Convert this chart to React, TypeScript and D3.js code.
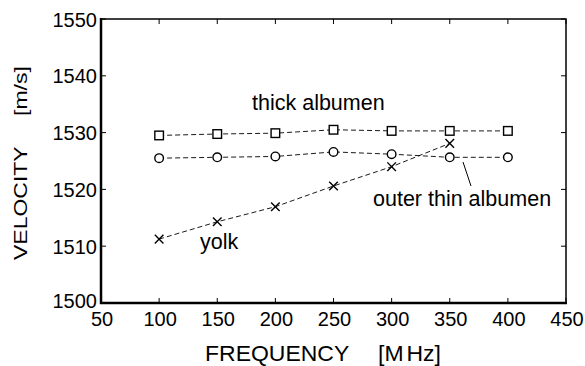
import React from "react";
import * as d3 from "d3";

const frequencies = [100, 150, 200, 250, 300, 350, 400];
const thickAlbumen = [1529.5, 1529.75, 1529.9, 1530.5, 1530.3, 1530.3, 1530.3];
const outerThinAlbumen = [1525.5, 1525.65, 1525.8, 1526.6, 1526.2, 1525.65, 1525.65];
const yolkFreq = [100, 150, 200, 250, 300, 350];
const yolk = [1511.25, 1514.3, 1516.95, 1520.6, 1524.0, 1528.1];
const xTicks = [50, 100, 150, 200, 250, 300, 350, 400, 450];
const yTicks = [1500, 1510, 1520, 1530, 1540, 1550];

const W = 585, H = 366;
const L = 101, R = 566, T = 19, B = 303;
const FONT = "'Liberation Sans', Arial, Helvetica, sans-serif";

export default function App() {
  const x = d3.scaleLinear().domain([50, 450]).range([L, R]);
  const y = d3.scaleLinear().domain([1500, 1550]).range([B, T]);
  const line = d3.line<[number, number]>().x(d => x(d[0])).y(d => y(d[1]));
  const thickPts: [number, number][] = frequencies.map((f, i) => [f, thickAlbumen[i]]);
  const thinPts: [number, number][] = frequencies.map((f, i) => [f, outerThinAlbumen[i]]);
  const yolkPts: [number, number][] = yolkFreq.map((f, i) => [f, yolk[i]]);
  const ms = 4.3;
  const tick = 5;
  return (
    <svg width={W} height={H} style={{ position: "absolute", left: 0, top: 0, background: "#fff" }} fontFamily={FONT}>
      <rect x={0} y={0} width={W} height={H} fill="#fff" />
      {/* lines */}
      <g fill="none" stroke="#000" strokeWidth={0.9} strokeDasharray="5,3">
        <path d={line(thickPts) || ""} />
        <path d={line(thinPts) || ""} />
        <path d={line(yolkPts) || ""} />
      </g>
      {/* markers */}
      <g fill="#fff" stroke="#000" strokeWidth={1.4}>
        {thickPts.map((p, i) => (
          <rect key={"s" + i} x={x(p[0]) - ms} y={y(p[1]) - ms} width={ms * 2} height={ms * 2} />
        ))}
        {thinPts.map((p, i) => (
          <circle key={"c" + i} cx={x(p[0])} cy={y(p[1])} r={ms} />
        ))}
        {yolkPts.map((p, i) => (
          <path key={"x" + i} d={`M${x(p[0]) - ms},${y(p[1]) - ms}L${x(p[0]) + ms},${y(p[1]) + ms}M${x(p[0]) - ms},${y(p[1]) + ms}L${x(p[0]) + ms},${y(p[1]) - ms}`} fill="none" />
        ))}
      </g>
      {/* ticks */}
      <g stroke="#000" strokeWidth={1}>
        {xTicks.map(t => (
          <g key={"xt" + t}>
            <line x1={x(t)} x2={x(t)} y1={B} y2={B - tick} />
            <line x1={x(t)} x2={x(t)} y1={T} y2={T + tick} />
          </g>
        ))}
        {yTicks.map(t => (
          <g key={"yt" + t}>
            <line x1={L} x2={L + tick} y1={y(t)} y2={y(t)} />
            <line x1={R} x2={R - tick} y1={y(t)} y2={y(t)} />
          </g>
        ))}
      </g>
      {/* frame */}
      <rect x={L} y={T} width={R - L} height={B - T} fill="none" stroke="#000" strokeWidth={1.5} />
      <line x1={L} x2={L} y1={T - 1} y2={B + 1} stroke="#000" strokeWidth={2.5} />
      <line x1={L - 1} x2={R + 1} y1={B} y2={B} stroke="#000" strokeWidth={2.5} />
      {/* tick labels */}
      <g fontSize={20} fill="#000">
        {xTicks.map(t => (
          <text key={"xl" + t} x={x(t) + 1} y={326} textAnchor="middle">{t}</text>
        ))}
        {yTicks.map(t => (
          <text key={"yl" + t} x={97} y={y(t) + (t === 1500 ? 5 : 7.5)} textAnchor="end">{t}</text>
        ))}
      </g>
      {/* axis labels */}
      <g fontSize={23} fill="#000">
        <text transform="translate(205,361) scale(1,0.93)">
          FREQUENCY
          <tspan x={173}>[M</tspan>
          <tspan dx={3}>Hz]</tspan>
        </text>
        <text transform="translate(27,260) rotate(-90) scale(1,0.82)">
          VELOCITY
          <tspan x={144}>[m/s]</tspan>
        </text>
      </g>
      {/* annotations */}
      <g fontSize={21.5} fill="#000">
        <text x={252} y={109.5}>thick albumen</text>
        <text x={200} y={249}>yolk</text>
        <text x={373} y={206}>outer thin albumen</text>
      </g>
      <line x1={463} y1={162} x2={471} y2={186} stroke="#000" strokeWidth={1} />
    </svg>
  );
}
